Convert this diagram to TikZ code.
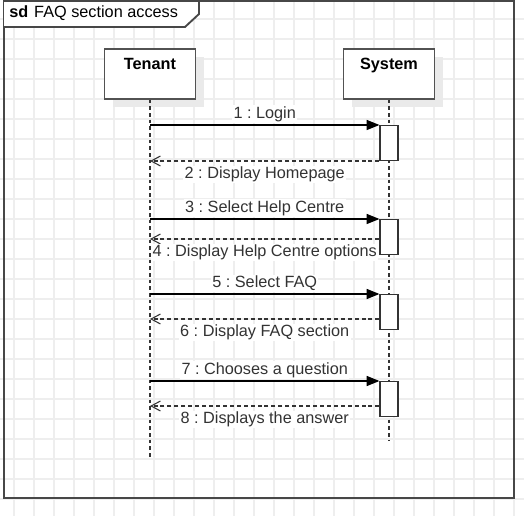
\documentclass[tikz,border=0pt]{standalone}
\usepackage{fontspec}
\setmainfont{Liberation Sans}
\frenchspacing
\usetikzlibrary{arrows.meta,positioning,calc,shadows}
\definecolor{umlgrid}{RGB}{238,238,238}
\definecolor{umlline}{RGB}{51,51,51}
\definecolor{umlshadow}{RGB}{234,234,234}
\newcommand{\msgfont}{\fontsize{12.2}{14}\selectfont}
\tikzset{
  gridline/.style={umlgrid, line width=1pt},
  framebox/.style={draw=umlline!90, line width=1.4pt},
  lifehead/.style={rectangle, draw=umlline!85, line width=1.1pt, fill=white,
                   minimum width=68.25pt, minimum height=37.5pt, inner sep=0pt,
                   drop shadow={shadow xshift=6pt, shadow yshift=-6pt,
                                fill=umlshadow, opacity=1}},
  headtext/.style={font=\msgfont\bfseries, text=black, anchor=base,
                   inner sep=0pt, yshift=-15.75pt},
  lifeline/.style={umlline, line width=0.8pt, dash pattern=on 2.6pt off 2.4pt},
  actbox/.style={rectangle, draw=umlline, line width=0.9pt, fill=white,
                 minimum width=13.5pt, minimum height=26.25pt, inner sep=0pt},
  callmsg/.style={-{Triangle[length=9.5pt, width=7.5pt]}, black, line width=0.9pt},
  replymsg/.style={-{Straight Barb[length=7pt, width=7.5pt]}, umlline,
                   line width=0.8pt, dash pattern=on 3pt off 2.2pt},
  msglabel/.style={font=\msgfont, text=umlline, fill=white, inner sep=1pt},
}
\begin{document}
\begin{tikzpicture}[x=0.75pt, y=-0.75pt, font=\msgfont]
  \useasboundingbox (0,0) rectangle (524,516);
  \fill[white] (0,0) rectangle (524,516);
  \begin{scope}
    \clip (0,0) rectangle (524,516);
    \draw[gridline, step=15pt, shift={(14,19)}] (-20,-20) grid (520,500);
  \end{scope}

  % frame and title tab
  \draw[framebox] (4,1) rectangle (514,498);
  \draw[framebox, fill=white] (4,1) -- (199,1) -- (199,14) -- (185,27) -- (4,27);
  \node[anchor=west, inner sep=0pt, text=black] (title) at (9,13)
    {\textbf{sd}\hspace{4.5pt}FAQ section access};

  % lifelines
  \node[lifehead, label={[headtext]north:Tenant}] (tenant) at (150,74) {};
  \node[lifehead, label={[headtext]north:System}] (system) at (389,74) {};
  \coordinate (tenantend) at (150,457);
  \coordinate (systemend) at (389,441);
  \draw[lifeline] (tenant.south) -- (tenantend);
  \draw[lifeline] (system.south) -- (systemend);

  % activations
  \node[actbox, anchor=north] (act1) at (389,125) {};
  \node[actbox, anchor=north] (act2) at (389,219) {};
  \node[actbox, anchor=north] (act3) at (389,294) {};
  \node[actbox, anchor=north] (act4) at (389,381) {};

  % points on the Tenant lifeline
  \foreach \n/\y in {1/125, 2/161, 3/219, 4/239, 5/294, 6/319, 7/381, 8/406}
    \coordinate (t\n) at (150,\y);

  % messages
  \draw[callmsg] (t1) -- (act1.north west)
    node[msglabel, midway, above=1pt] {1 : Login};
  \draw[replymsg] (act1.west |- t2) -- (t2)
    node[msglabel, midway, below=3pt] {2 : Display Homepage};
  \draw[callmsg] (t3) -- (act2.north west)
    node[msglabel, midway, above=1pt] {3 : Select Help Centre};
  \draw[replymsg] (act2.west |- t4) -- (t4)
    node[msglabel, midway, below=3pt] {4 : Display Help Centre options};
  \draw[callmsg] (t5) -- (act3.north west)
    node[msglabel, midway, above=1pt] {5 : Select FAQ};
  \draw[replymsg] (act3.west |- t6) -- (t6)
    node[msglabel, midway, below=3pt] {6 : Display FAQ section};
  \draw[callmsg] (t7) -- (act4.north west)
    node[msglabel, midway, above=1pt] {7 : Chooses a question};
  \draw[replymsg] (act4.west |- t8) -- (t8)
    node[msglabel, midway, below=3pt] {8 : Displays the answer};
\end{tikzpicture}
\end{document}
